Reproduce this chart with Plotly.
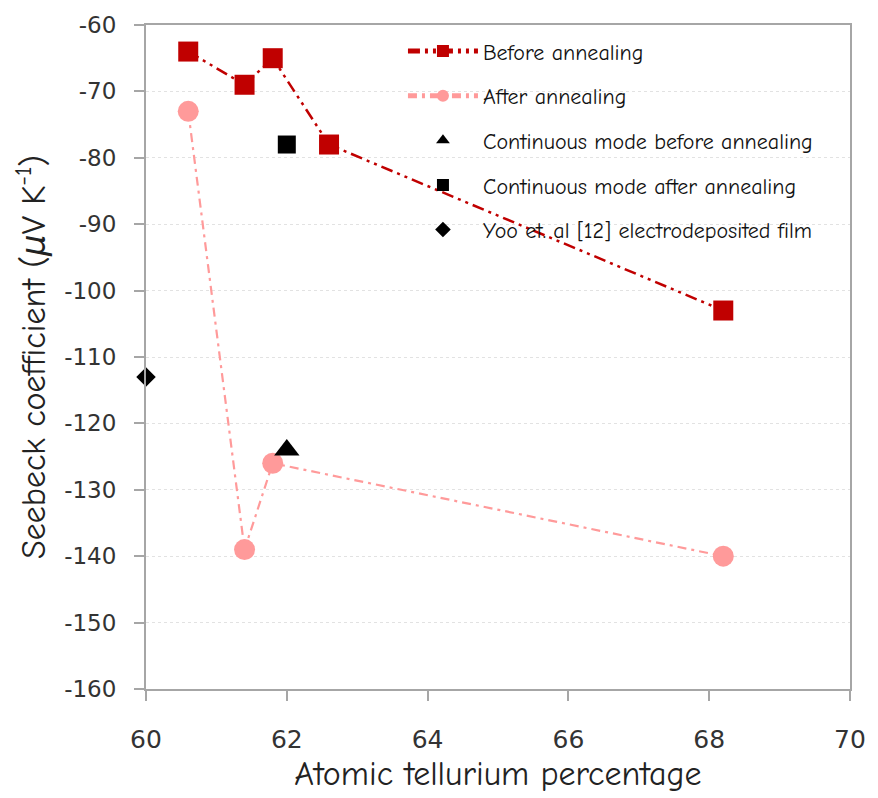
import plotly.graph_objects as go

# Atomic Te percentage and Seebeck coefficient (µV/K)
te_before = [60.6, 61.4, 61.8, 62.6, 68.2]
s_before = [-64, -69, -65, -78, -103]

te_after = [60.6, 61.4, 61.8, 68.2]
s_after = [-73, -139, -126, -140]

te_cont_before = [62.0]
s_cont_before = [-124]

te_cont_after = [62.0]
s_cont_after = [-78]

te_yoo = [60.0]
s_yoo = [-113]

x_ticks = [60, 62, 64, 66, 68, 70]
y_ticks = [-60, -70, -80, -90, -100, -110, -120, -130, -140, -150, -160]
y_tick_text = ["-60", "-70", "-80", "-90", "-100", "-110", "-120", "-130", "-140", "-150", "-160"]

DARK_RED = "#C00000"
PINK = "#FF9A9A"
TITLE_FONT = "Comic Sans MS, Comic Neue, DejaVu Sans"
TICK_FONT = "DejaVu Sans, Verdana, sans-serif"

fig = go.Figure()

fig.add_trace(go.Scatter(
    x=te_before, y=s_before, name="Before annealing", mode="lines+markers",
    legendgroup="g1",
    line=dict(color=DARK_RED, width=2.5, dash="12px,5px,3px,5px,3px,5px"),
    marker=dict(symbol="square", size=20, color=DARK_RED),
))
fig.add_trace(go.Scatter(
    x=te_after, y=s_after, name="After annealing", mode="lines+markers",
    legendgroup="g2",
    line=dict(color=PINK, width=2.2, dash="9px,5px,3px,5px"),
    marker=dict(symbol="circle", size=21, color=PINK),
))
fig.add_trace(go.Scatter(
    x=te_cont_before, y=s_cont_before, name="Continuous mode before annealing",
    mode="markers", legendgroup="g3",
    marker=dict(symbol="triangle-up", size=22, color="black"),
))
fig.add_trace(go.Scatter(
    x=te_cont_after, y=s_cont_after, name="Continuous mode after annealing",
    mode="markers", legendgroup="g4",
    marker=dict(symbol="square", size=18, color="black"),
))
fig.add_trace(go.Scatter(
    x=te_yoo, y=s_yoo, name="Yoo et. al [12] electrodeposited film",
    mode="markers", legendgroup="g5", cliponaxis=False,
    marker=dict(symbol="diamond", size=15, color="black"),
))

fig.update_layout(
    width=878, height=798,
    margin=dict(l=146, r=18, t=25, b=106),
    paper_bgcolor="white", plot_bgcolor="white",
    showlegend=True,
    legend=dict(
        x=0.365, y=0.992, xanchor="left", yanchor="top",
        bgcolor="rgba(0,0,0,0)",
        font=dict(family=TITLE_FONT, size=22, color="#111111"),
        itemsizing="constant", itemwidth=70,
        traceorder="grouped", tracegroupgap=13,
    ),
    xaxis=dict(
        range=[60, 70], tickvals=x_ticks, showgrid=False, zeroline=False,
        showline=True, linecolor="#a6a6a6", linewidth=2, mirror=True,
        ticks="outside", ticklen=10, tickcolor="#a6a6a6", tickwidth=1.5,
        ticklabelstandoff=17,
        tickfont=dict(family=TICK_FONT, size=25, color="#333333"),
        title=dict(text="Atomic tellurium percentage", standoff=8,
                   font=dict(family=TITLE_FONT, size=34, color="#222222")),
    ),
    yaxis=dict(
        range=[-160, -60], tickvals=y_ticks, ticktext=y_tick_text, zeroline=False,
        showgrid=True, gridcolor="#e2e2e2", gridwidth=1, griddash="dot",
        showline=True, linecolor="#a6a6a6", linewidth=2, mirror=True,
        ticks="outside", ticklen=10, tickcolor="#a6a6a6", tickwidth=1.5,
        ticklabelstandoff=13,
        tickfont=dict(family=TICK_FONT, size=23, color="#333333"),
        title=dict(text="Seebeck coefficient (<i>μ</i>V K<sup>-1</sup>)", standoff=8,
                   font=dict(family=TITLE_FONT, size=34, color="#222222")),
    ),
)

fig.write_html("out.html")
